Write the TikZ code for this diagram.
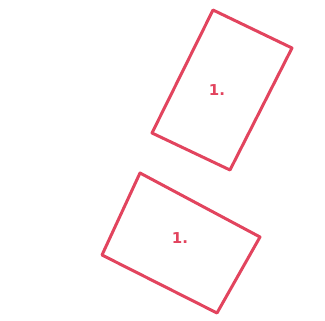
\documentclass[tikz,border=0pt]{standalone}
\usepackage{fontspec}
\setmainfont{DejaVu Sans}
\definecolor{inkred}{HTML}{E2445E}
\begin{document}
\begin{tikzpicture}[x=1pt,y=-1pt,
  sketch/.style={draw=inkred,line width=3pt,line join=round,line cap=round},
  numlabel/.style={text=inkred,font=\bfseries\fontsize{15}{15}\selectfont,inner sep=1pt}]
\useasboundingbox (0,0) rectangle (325,321);
% top card
\coordinate (t1) at (213,10);
\coordinate (t2) at (292,48);
\coordinate (t3) at (230,170);
\coordinate (t4) at (152,133);
\draw[sketch] (t1) -- (t2) -- (t3) -- (t4) -- cycle;
\node[numlabel] (tl) at (217,90) {1.};
% bottom card
\coordinate (b1) at (140,173);
\coordinate (b2) at (260,237);
\coordinate (b3) at (217,313);
\coordinate (b4) at (102,255);
\draw[sketch] (b1) -- (b2) -- (b3) -- (b4) -- cycle;
\node[numlabel] (bl) at (180,238) {1.};
\end{tikzpicture}
\end{document}
